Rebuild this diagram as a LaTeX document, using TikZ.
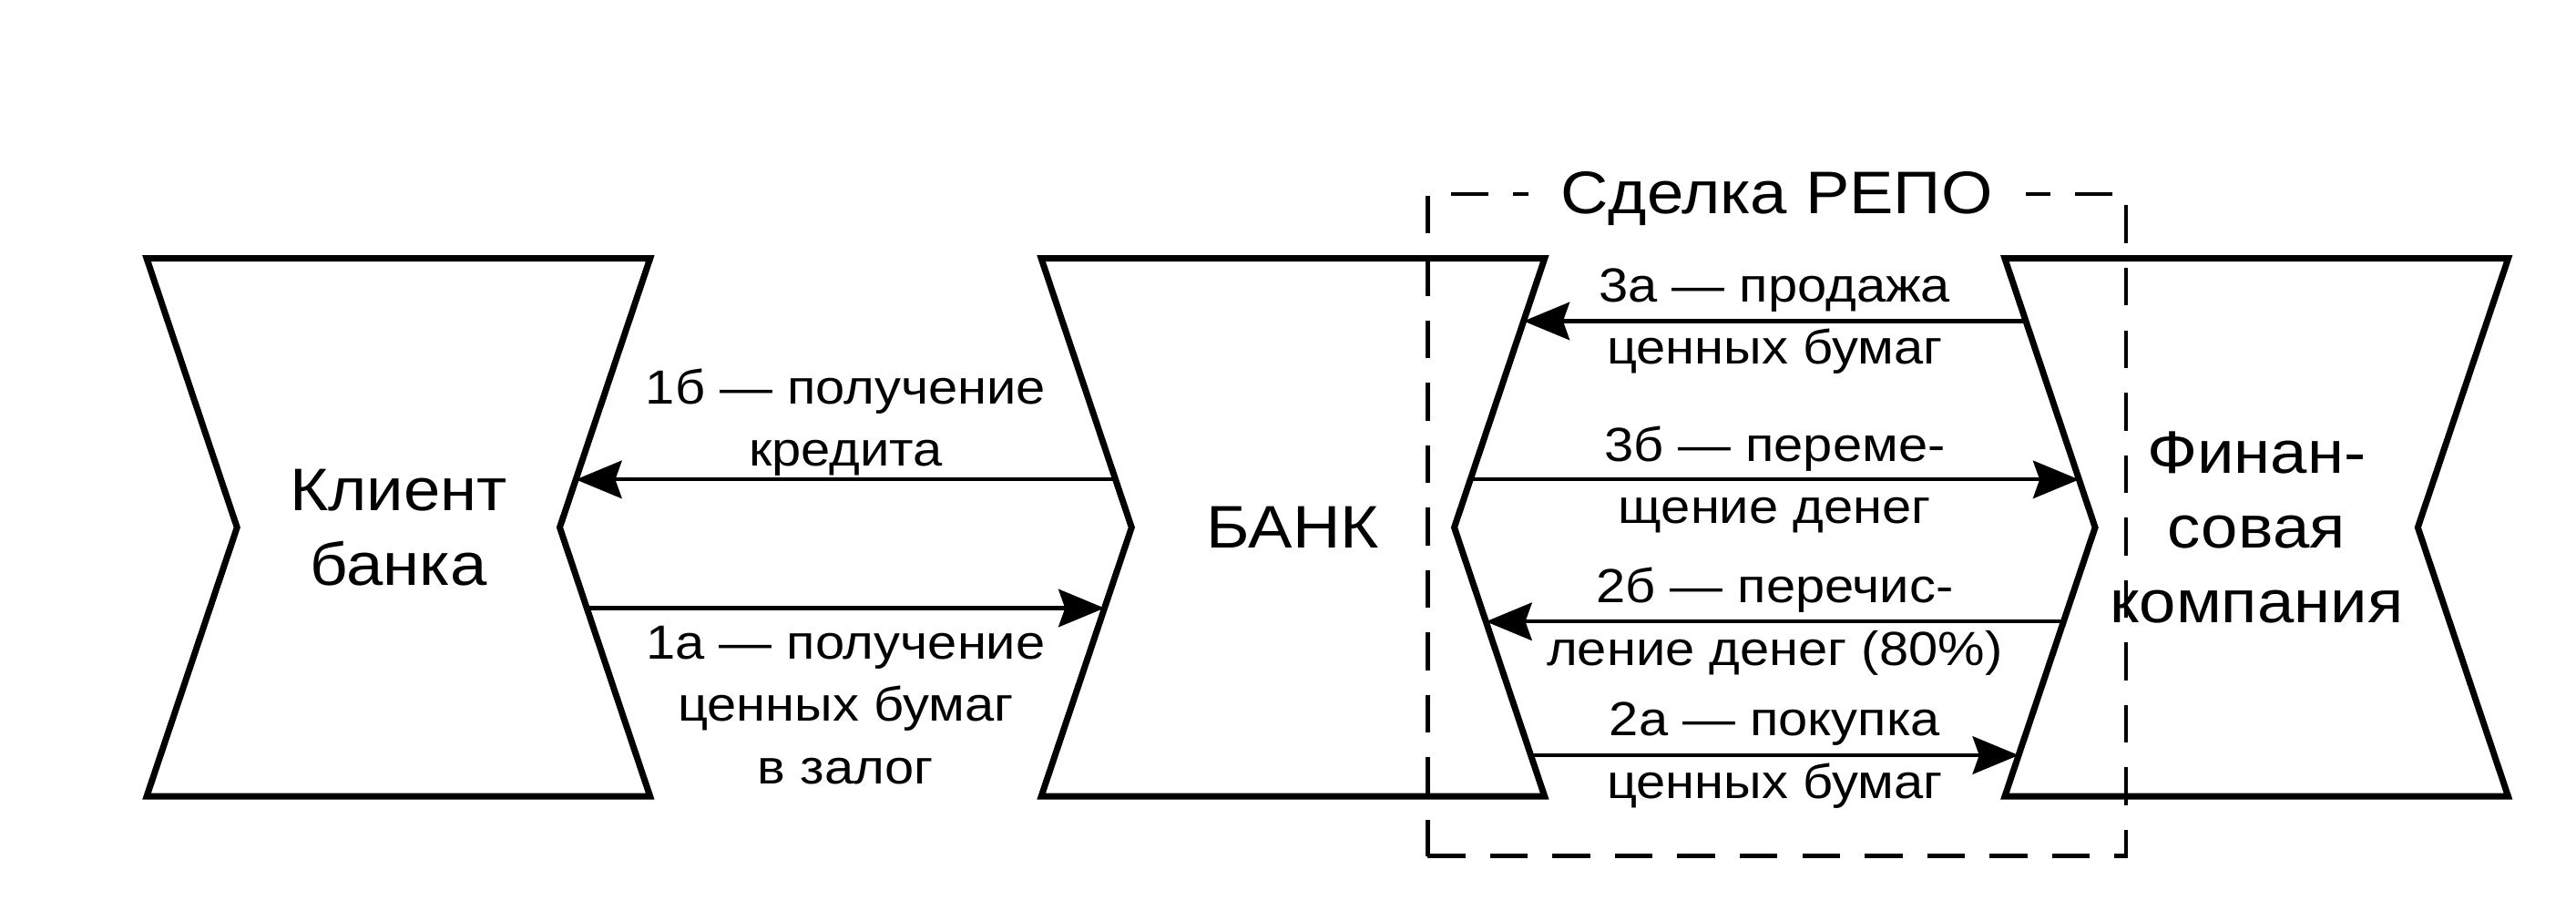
\documentclass[tikz,border=0pt]{standalone}
\usepackage{fontspec}
\setmainfont{Liberation Sans}[FakeStretch=1.1]
\usetikzlibrary{arrows.meta,positioning,calc}
\tikzset{
  >={Stealth[length=2.8mm,width=2.3mm,inset=0.4mm]},
  % blocks
  blk/.style={inner sep=0pt,minimum width=3.05cm,minimum height=3.26cm,
              align=center,font=\fontsize{10.4}{13}\selectfont},
  blkline/.style={draw=black,line width=1.1pt,line join=miter},
  % flows
  fl/.style={->,draw=black,line width=0.65pt},
  lbl/.style={font=\fontsize{8.3}{10.8}\selectfont,align=center,inner sep=0pt},
  repobox/.style={draw=black,line width=0.7pt,dash pattern=on 2.3mm off 1.5mm,
              minimum width=4.25cm,minimum height=4.03cm,inner sep=0pt},
  ttl/.style={fill=white,inner xsep=0.2cm,inner ysep=0pt,anchor=base,
              font=\fontsize{10.4}{13}\selectfont},
}
\begin{document}
\begin{tikzpicture}
\useasboundingbox (0,0) rectangle (15.68,5.54);
  \node[blk] (client) at (2.425,2.33) {Клиент\\банка};
  \node[blk] (bank) at (7.87,2.33) {БАНК};
  \node[blk] (fin) at (13.735,2.33) {Финан-\\совая\\компания};
  \foreach \b in {client,bank,fin}{
    \coordinate (\b-l) at ($(\b.west)+(0.55,0)$);
    \coordinate (\b-r) at ($(\b.east)+(-0.55,0)$);
    \draw[blkline] (\b.north west) -- (\b-l) -- (\b.south west) -- (\b.south east)
      -- (\b-r) -- (\b.north east) -- cycle;
  }
  \node[repobox] (repo) at (10.815,2.345) {};
  \node[ttl,yshift=-0.13cm] (repo-t) at (repo.north) {Сделка РЕПО};
  % arrow ends on the slanted sides
  \coordinate (bank-1b) at ($(bank.north west)!0.822!(bank-l)$);
  \coordinate (client-1b) at ($(client.north east)!0.822!(client-r)$);
  \coordinate (client-1a) at ($(client-r)!0.30!(client.south east)$);
  \coordinate (bank-1a) at ($(bank-l)!0.30!(bank.south west)$);
  \coordinate (fin-3a) at ($(fin.north west)!0.233!(fin-l)$);
  \coordinate (bank-3a) at ($(bank.north east)!0.233!(bank-r)$);
  \coordinate (bank-3b) at ($(bank.north east)!0.822!(bank-r)$);
  \coordinate (fin-3b) at ($(fin.north west)!0.822!(fin-l)$);
  \coordinate (fin-2b) at ($(fin-l)!0.35!(fin.south west)$);
  \coordinate (bank-2b) at ($(bank-r)!0.35!(bank.south east)$);
  \coordinate (bank-2a) at ($(bank-r)!0.847!(bank.south east)$);
  \coordinate (fin-2a) at ($(fin-l)!0.847!(fin.south west)$);
  \draw[fl] (bank-1b) -- node[lbl,above=0.3pt] {1б — получение\\кредита} (client-1b);
  \draw[fl] (client-1a) -- node[lbl,below=2.8pt] {1а — получение\\ценных бумаг\\в залог} (bank-1a);
  \draw[fl] (fin-3a) -- node[lbl] {3а — продажа\\ценных бумаг} (bank-3a);
  \draw[fl] (bank-3b) -- node[lbl] {3б — переме-\\щение денег} (fin-3b);
  \draw[fl] (fin-2b) -- node[lbl] {2б — перечис-\\ление денег (80\%)} (bank-2b);
  \draw[fl] (bank-2a) -- node[lbl] {2а — покупка\\ценных бумаг} (fin-2a);
\end{tikzpicture}
\end{document}
